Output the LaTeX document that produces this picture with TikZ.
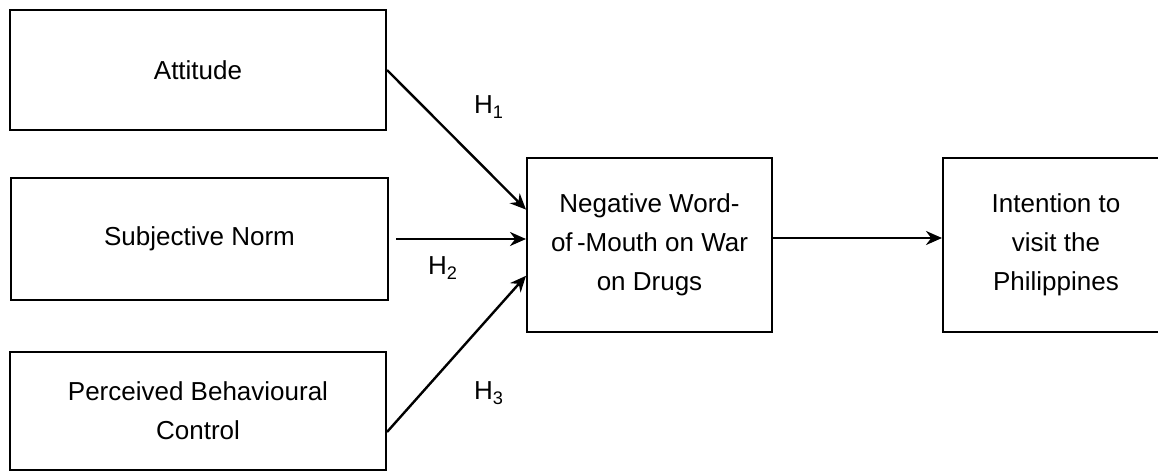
\documentclass[tikz,border=0pt]{standalone}
\usepackage{fontspec}
\setmainfont{Liberation Sans}
\usetikzlibrary{arrows.meta}
\begin{document}
\begin{tikzpicture}[x=0.5pt,y=-0.5pt]

\tikzset{line/.style={draw,line width=1pt}}
\tikzset{arrow/.style={line,line width=1.2pt,->,>={Stealth[length=8pt,width=7pt]}}}
\tikzset{box/.style={line,rectangle,align=center,inner sep=0pt,font=\fontsize{13}{19.5}\selectfont}}
\tikzset{hyp/.style={font=\fontsize{13}{15}\selectfont}}

\useasboundingbox (0,0) rectangle (1158,473);

\node[box,minimum width=188pt,minimum height=60pt] (att) at (198,70) {Attitude};
\node[box,minimum width=188.5pt,minimum height=61pt] (sn) at (199.5,239) {Subjective Norm};
\node[box,minimum width=188pt,minimum height=59pt] (pbc) at (198,411) {Perceived Behavioural\\Control};

\node[box,minimum width=122.5pt,minimum height=87pt] (nwom) at (649.5,245) {Negative Word-\\of\,-Mouth on War\\on Drugs};
\node[box,minimum width=113pt,minimum height=87pt] (itv) at (1056,245) {Intention to\\visit the\\Philippines};

\node[hyp] (h1) at (489,107) {H\textsubscript{1}};
\node[hyp] (h2) at (443,268) {H\textsubscript{2}};
\node[hyp] (h3) at (489,393) {H\textsubscript{3}};

\path[arrow] (att.east) to (nwom.164);
\path[arrow] ([xshift=3.5pt]sn.east) to (sn.east -| nwom.west);
\path[arrow] ([yshift=-10.5pt]pbc.east) to (nwom.194);
\path[arrow] ([yshift=3.5pt]nwom.east) to ([yshift=3.5pt]itv.west);

\end{tikzpicture}
\end{document}
